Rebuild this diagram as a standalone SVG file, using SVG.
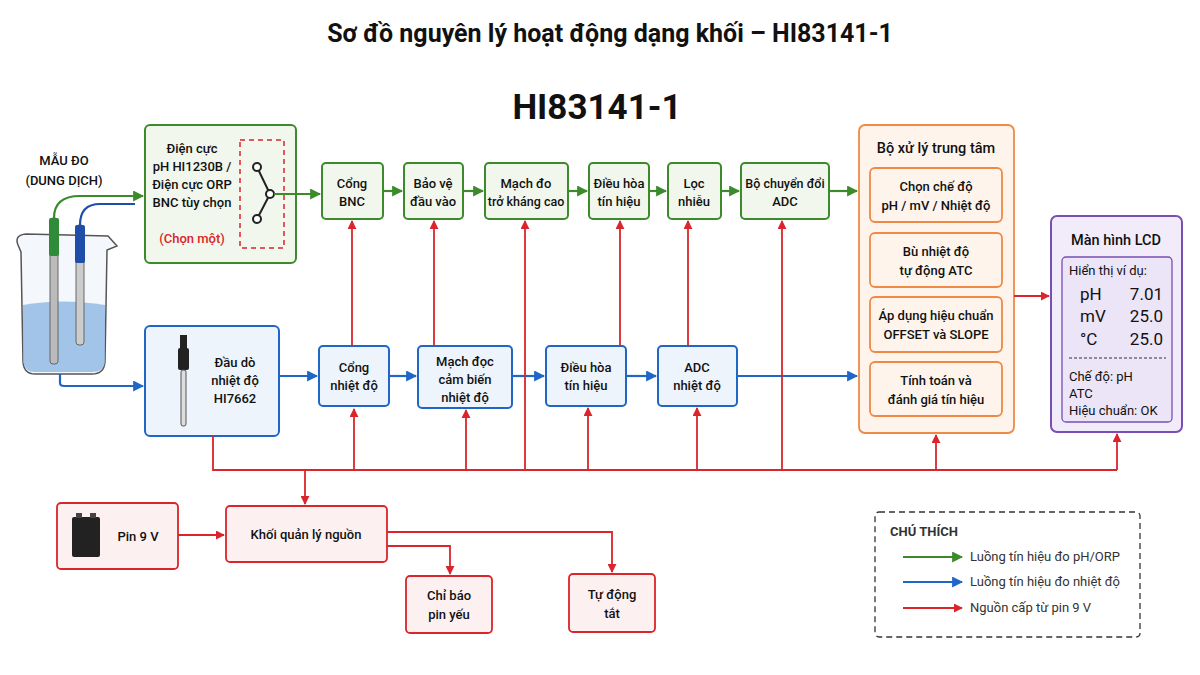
<svg xmlns="http://www.w3.org/2000/svg" width="1200" height="675" viewBox="0 0 1200 675">
<defs>
<style>
text{font-family:"Roboto","Liberation Sans",sans-serif;fill:#111;text-anchor:middle}
.t{font-size:13px;font-weight:500}
.g{fill:#f1f7ec;stroke:#3c8a2b;stroke-width:2}
.b{fill:#eef4fc;stroke:#1f66c7;stroke-width:2}
.r{fill:#fdf0f0;stroke:#d9252b;stroke-width:1.8}
.o{fill:#fef4ec;stroke:#ee8a45;stroke-width:1.8}
.p{fill:#f1ebfa;stroke:#7a4fb4;stroke-width:2}
.lg{stroke:#3c8a2b;stroke-width:2.2;fill:none}
.lb{stroke:#1f66c7;stroke-width:2.2;fill:none}
.lr{stroke:#d9252b;stroke-width:1.8;fill:none}
</style>
<marker id="ag" viewBox="0 0 10 10" refX="9" refY="5" markerWidth="5" markerHeight="5" orient="auto"><path d="M0,0L10,5L0,10z" fill="#3c8a2b"/></marker>
<marker id="ab" viewBox="0 0 10 10" refX="9" refY="5" markerWidth="5" markerHeight="5" orient="auto"><path d="M0,0L10,5L0,10z" fill="#1f66c7"/></marker>
<marker id="ar" viewBox="0 0 10 10" refX="9" refY="5" markerWidth="5" markerHeight="5" orient="auto"><path d="M0,0L10,5L0,10z" fill="#d9252b"/></marker>
</defs>
<rect width="1200" height="675" fill="#fff"/>
<text x="610" y="42" style="font-size:25px;font-weight:700">Sơ đồ nguyên lý hoạt động dạng khối – HI83141-1</text>
<text x="597" y="119" style="font-size:35px;font-weight:700">HI83141-1</text>

<g id="sample">
<text x="64" y="165" class="t">MẪU ĐO</text>
<text x="64" y="185" class="t">(DUNG DỊCH)</text>
<path d="M18,245 Q14,235 26,234 L108,236 L117,246 L107,250 L105,362 Q104,374 92,374 L35,374 Q24,374 23,362 L21,252 Z" fill="#f4f8fc" stroke="#555" stroke-width="1.5"/>
<path d="M23,305 Q62,298 105,305 L105,362 Q104,372 92,372 L35,372 Q25,372 23,362 Z" fill="#8fb7e3" opacity="0.8"/>
<rect x="50" y="218" width="8" height="146" rx="3" fill="#bbb" stroke="#666"/>
<rect x="49" y="218" width="10" height="38" rx="2" fill="#2f8a3a"/>
<rect x="76" y="225" width="8" height="120" rx="3" fill="#ccc" stroke="#666"/>
<rect x="75" y="225" width="10" height="38" rx="2" fill="#1f4ea8"/>
<path d="M54,218 Q54,196 80,196 L143,196" class="lg" marker-end="url(#ag)"/>
<path d="M80,225 Q80,204 100,204 L135,204" stroke="#1f4ea8" stroke-width="2.2" fill="none"/>
</g>

<g id="electrode">
<rect x="145" y="125" width="151" height="138" rx="5" class="g"/>
<text x="192" y="153" class="t">Điện cực</text>
<text x="192" y="171" class="t">pH HI1230B /</text>
<text x="192" y="189" class="t">Điện cực ORP</text>
<text x="192" y="207" class="t">BNC tùy chọn</text>
<text x="192" y="243" class="t" style="fill:#d9252b">(Chọn một)</text>
<rect x="240" y="140" width="44" height="108" fill="none" stroke="#d9252b" stroke-width="1.5" stroke-dasharray="5,4"/>
<path d="M257,167 L270,194 L257,219" stroke="#222" stroke-width="2" fill="none"/>
<circle cx="257" cy="167" r="4" fill="#fff" stroke="#222" stroke-width="2"/>
<circle cx="270" cy="194" r="4" fill="#fff" stroke="#222" stroke-width="2"/>
<circle cx="257" cy="219" r="4" fill="#fff" stroke="#222" stroke-width="2"/>
</g>

<g id="bnc"><rect x="322" y="163" width="61" height="56" rx="4" class="g"/><text x="352" y="188" class="t">Cổng</text><text x="352" y="206" class="t">BNC</text></g>
<g id="protect"><rect x="404" y="163" width="59" height="56" rx="4" class="g"/><text x="433" y="188" class="t">Bảo vệ</text><text x="433" y="206" class="t">đầu vào</text></g>
<g id="hiz"><rect x="485" y="163" width="83" height="56" rx="4" class="g"/><text x="526" y="188" class="t">Mạch đo</text><text x="526" y="206" class="t" style="font-size:12.5px">trở kháng cao</text></g>
<g id="cond"><rect x="589" y="163" width="60" height="56" rx="4" class="g"/><text x="619" y="188" class="t">Điều hòa</text><text x="619" y="206" class="t">tín hiệu</text></g>
<g id="filter"><rect x="668" y="163" width="53" height="56" rx="4" class="g"/><text x="694" y="188" class="t">Lọc</text><text x="694" y="206" class="t">nhiễu</text></g>
<g id="adc"><rect x="741" y="163" width="88" height="56" rx="4" class="g"/><text x="785" y="188" class="t" style="font-size:12.5px">Bộ chuyển đổi</text><text x="785" y="206" class="t">ADC</text></g>

<g id="tprobe">
<rect x="145" y="326" width="134" height="110" rx="5" class="b"/>
<rect x="180" y="335" width="7" height="16" fill="#222"/>
<rect x="178" y="348" width="11" height="22" rx="2" fill="#222"/>
<rect x="181" y="370" width="5" height="56" rx="2" fill="#ddd" stroke="#555"/>
<text x="235" y="367" class="t">Đầu dò</text><text x="235" y="385" class="t">nhiệt độ</text><text x="235" y="403" class="t">HI7662</text>
</g>
<g id="tport"><rect x="319" y="346" width="70" height="60" rx="4" class="b"/><text x="354" y="372" class="t">Cổng</text><text x="354" y="390" class="t">nhiệt độ</text></g>
<g id="tread"><rect x="418" y="346" width="94" height="62" rx="4" class="b"/><text x="465" y="366" class="t">Mạch đọc</text><text x="465" y="384" class="t">cảm biến</text><text x="465" y="402" class="t">nhiệt độ</text></g>
<g id="tcond"><rect x="546" y="346" width="80" height="60" rx="4" class="b"/><text x="586" y="372" class="t">Điều hòa</text><text x="586" y="390" class="t">tín hiệu</text></g>
<g id="tadc"><rect x="658" y="346" width="79" height="60" rx="4" class="b"/><text x="697" y="372" class="t">ADC</text><text x="697" y="390" class="t">nhiệt độ</text></g>

<g id="cpu">
<rect x="859" y="125" width="155" height="308" rx="6" class="o"/>
<text x="936" y="153" class="t" style="font-size:14.5px">Bộ xử lý trung tâm</text>
<rect x="870" y="168" width="132" height="54" rx="5" class="o"/><text x="936" y="191" class="t">Chọn chế độ</text><text x="936" y="210" class="t">pH / mV / Nhiệt độ</text>
<rect x="870" y="233" width="132" height="54" rx="5" class="o"/><text x="936" y="256" class="t">Bù nhiệt độ</text><text x="936" y="275" class="t">tự động ATC</text>
<rect x="870" y="297" width="132" height="55" rx="5" class="o"/><text x="936" y="320" class="t">Áp dụng hiệu chuẩn</text><text x="936" y="339" class="t">OFFSET và SLOPE</text>
<rect x="870" y="362" width="132" height="54" rx="5" class="o"/><text x="936" y="385" class="t">Tính toán và</text><text x="936" y="404" class="t">đánh giá tín hiệu</text>
</g>

<g id="lcd">
<rect x="1051" y="216" width="131" height="216" rx="6" class="p"/>
<text x="1116" y="245" class="t" style="font-size:14.5px">Màn hình LCD</text>
<rect x="1062" y="257" width="110" height="165" rx="4" fill="#ece4f7" stroke="#7a4fb4" stroke-width="1.3"/>
<text x="1069" y="275" class="t" style="text-anchor:start;font-weight:400;font-size:13px">Hiển thị ví dụ:</text>
<g style="font-size:17px">
<text x="1080" y="300" style="text-anchor:start">pH</text><text x="1163" y="300" style="text-anchor:end">7.01</text>
<text x="1080" y="322" style="text-anchor:start">mV</text><text x="1163" y="322" style="text-anchor:end">25.0</text>
<text x="1080" y="345" style="text-anchor:start">°C</text><text x="1163" y="345" style="text-anchor:end">25.0</text>
</g>
<line x1="1069" y1="358" x2="1166" y2="358" stroke="#333" stroke-dasharray="3,2"/>
<text x="1069" y="381" style="text-anchor:start;font-size:13px">Chế độ: pH</text>
<text x="1069" y="398" style="text-anchor:start;font-size:13px">ATC</text>
<text x="1069" y="415" style="text-anchor:start;font-size:13px">Hiệu chuẩn: OK</text>
</g>

<g id="battery">
<rect x="57" y="503" width="121" height="66" rx="4" class="r"/>
<rect x="72" y="517" width="28" height="40" rx="2" fill="#222"/>
<rect x="76" y="513" width="6" height="5" fill="#444"/><rect x="90" y="513" width="6" height="5" fill="#444"/>
<text x="138" y="541" class="t">Pin 9 V</text>
</g>
<g id="power"><rect x="226" y="506" width="161" height="56" rx="4" class="r"/><text x="306" y="539" class="t">Khối quản lý nguồn</text></g>
<g id="lowbat"><rect x="406" y="576" width="86" height="57" rx="4" class="r"/><text x="449" y="600" class="t">Chỉ báo</text><text x="449" y="619" class="t">pin yếu</text></g>
<g id="autooff"><rect x="569" y="574" width="86" height="58" rx="4" class="r"/><text x="612" y="599" class="t">Tự động</text><text x="612" y="618" class="t">tắt</text></g>

<g id="legend">
<rect x="875" y="512" width="265" height="125" rx="4" fill="#fff" stroke="#333" stroke-width="1.3" stroke-dasharray="6,4"/>
<text x="890" y="536" style="text-anchor:start;font-size:13px;font-weight:700;fill:#333">CHÚ THÍCH</text>
<line x1="903" y1="557" x2="962" y2="557" class="lg" marker-end="url(#ag)"/><text x="970" y="561" style="text-anchor:start;font-size:13px;fill:#333">Luồng tín hiệu đo pH/ORP</text>
<line x1="903" y1="582" x2="962" y2="582" class="lb" marker-end="url(#ab)"/><text x="970" y="586" style="text-anchor:start;font-size:13px;fill:#333">Luồng tín hiệu đo nhiệt độ</text>
<line x1="903" y1="608" x2="962" y2="608" class="lr" marker-end="url(#ar)"/><text x="970" y="612" style="text-anchor:start;font-size:13px;fill:#333">Nguồn cấp từ pin 9 V</text>
</g>

<g id="connectors">
<line x1="274" y1="194" x2="320" y2="194" class="lg" marker-end="url(#ag)"/>
<line x1="383" y1="191" x2="402" y2="191" class="lg" marker-end="url(#ag)"/>
<line x1="463" y1="191" x2="483" y2="191" class="lg" marker-end="url(#ag)"/>
<line x1="568" y1="191" x2="587" y2="191" class="lg" marker-end="url(#ag)"/>
<line x1="649" y1="191" x2="666" y2="191" class="lg" marker-end="url(#ag)"/>
<line x1="721" y1="191" x2="739" y2="191" class="lg" marker-end="url(#ag)"/>
<line x1="829" y1="191" x2="857" y2="191" class="lg" marker-end="url(#ag)"/>
<path d="M60,374 L60,383 Q60,386 64,386 L143,386" class="lb" marker-end="url(#ab)"/>
<line x1="279" y1="376" x2="317" y2="376" class="lb" marker-end="url(#ab)"/>
<line x1="389" y1="376" x2="416" y2="376" class="lb" marker-end="url(#ab)"/>
<line x1="512" y1="376" x2="544" y2="376" class="lb" marker-end="url(#ab)"/>
<line x1="626" y1="376" x2="656" y2="376" class="lb" marker-end="url(#ab)"/>
<line x1="737" y1="376" x2="857" y2="376" class="lb" marker-end="url(#ab)"/>
<line x1="1014" y1="296" x2="1049" y2="296" class="lr" marker-end="url(#ar)"/>
<path d="M213,436 L213,470 L1117,470" class="lr"/>
<line x1="354" y1="470" x2="354" y2="409" class="lr" marker-end="url(#ar)"/>
<line x1="466" y1="470" x2="466" y2="410" class="lr" marker-end="url(#ar)"/>
<line x1="588" y1="470" x2="588" y2="408" class="lr" marker-end="url(#ar)"/>
<line x1="697" y1="470" x2="697" y2="408" class="lr" marker-end="url(#ar)"/>
<line x1="936" y1="470" x2="936" y2="435" class="lr" marker-end="url(#ar)"/>
<line x1="1117" y1="470" x2="1117" y2="434" class="lr" marker-end="url(#ar)"/>
<line x1="352" y1="346" x2="352" y2="221" class="lr" marker-end="url(#ar)"/>
<line x1="434" y1="346" x2="434" y2="221" class="lr" marker-end="url(#ar)"/>
<line x1="525" y1="470" x2="525" y2="221" class="lr" marker-end="url(#ar)"/>
<line x1="620" y1="346" x2="620" y2="221" class="lr" marker-end="url(#ar)"/>
<line x1="688" y1="346" x2="688" y2="221" class="lr" marker-end="url(#ar)"/>
<line x1="782" y1="470" x2="782" y2="221" class="lr" marker-end="url(#ar)"/>
<line x1="305" y1="470" x2="305" y2="504" class="lr" marker-end="url(#ar)"/>
<line x1="178" y1="535" x2="224" y2="535" class="lr" marker-end="url(#ar)"/>
<path d="M387,546 L450,546 L450,574" class="lr" marker-end="url(#ar)"/>
<path d="M387,532 L612,532 L612,572" class="lr" marker-end="url(#ar)"/>
</g>
</svg>
